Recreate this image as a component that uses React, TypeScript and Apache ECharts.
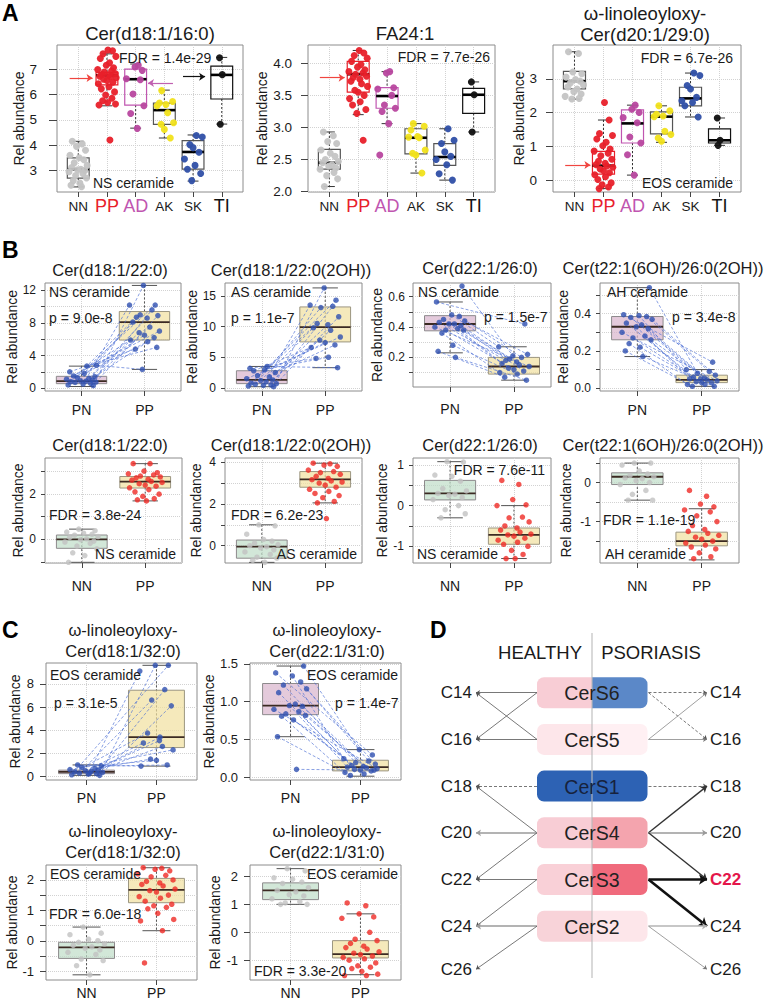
import React, { useEffect, useRef } from "react";
import * as echarts from "echarts";

const FONT = '"Liberation Sans", Arial, Helvetica, sans-serif';

// display jitter offsets (category units), typed once and cycled
const JITTER = [-0.18, 0.12, -0.05, 0.22, -0.25, 0.03, 0.17, -0.12, 0.27, -0.2, 0.08, -0.02, 0.2, -0.28, 0.14, -0.08, 0.25, -0.15, 0.05, -0.22, 0.1, 0.28, -0.1, 0.0, 0.18, -0.26, 0.06, -0.17, 0.23, -0.04, 0.15, -0.13, 0.02, 0.26, -0.24, 0.09];

// ---------------- Panel A ----------------
const A_CATS = ["NN", "PP", "AD", "AK", "SK", "TI"];
// [lower whisker, q1, median, q3, upper whisker]
const A1_BOX = [[2.35, 2.7, 3.05, 3.5, 4.15], [5.55, 6.38, 6.75, 6.87, 7.6], [4.67, 5.58, 6.6, 7.0, 7.2], [4.28, 4.82, 5.38, 5.66, 6.17], [2.58, 3.05, 3.73, 4.18, 4.4], [4.83, 5.82, 6.77, 7.12, 7.46]];
const A1_PTS = [
  [4.15, 4.05, 3.95, 3.8, 3.6, 3.5, 3.42, 3.3, 3.2, 3.12, 3.05, 3.03, 3.0, 2.95, 2.88, 2.8, 2.7, 2.6, 2.5, 2.42, 2.36],
  [7.75, 7.72, 7.6, 7.5, 7.42, 7.25, 7.15, 7.05, 6.98, 6.92, 6.88, 6.82, 6.78, 6.76, 6.72, 6.7, 6.66, 6.6, 6.55, 6.48, 6.42, 6.3, 6.22, 6.1, 5.98, 5.85, 5.75, 5.68, 5.62, 5.58, 4.2],
  [7.15, 7.08, 6.95, 6.62, 6.58, 6.02, 5.55, 5.25, 4.66],
  [6.15, 5.72, 5.66, 5.6, 5.55, 5.28, 4.88, 4.82, 4.62, 4.28],
  [4.38, 4.32, 4.02, 3.9, 3.72, 3.45, 3.2, 3.05, 2.88, 2.6],
  [7.45, 6.78, 4.82],
];
const A2_BOX = [[2.08, 2.35, 2.45, 2.66, 2.93], [3.2, 3.55, 3.83, 4.03, 4.2], [3.06, 3.3, 3.49, 3.62, 3.87], [2.29, 2.59, 2.84, 2.98, 3.06], [2.18, 2.41, 2.54, 2.75, 2.98], [2.93, 3.22, 3.51, 3.61, 3.71]];
const A2_PTS = [
  [2.93, 2.87, 2.78, 2.75, 2.65, 2.6, 2.55, 2.5, 2.47, 2.45, 2.42, 2.4, 2.37, 2.35, 2.3, 2.25, 2.2, 2.08],
  [4.2, 4.16, 4.12, 4.08, 4.03, 3.98, 3.94, 3.9, 3.87, 3.85, 3.83, 3.8, 3.78, 3.75, 3.72, 3.68, 3.64, 3.58, 3.55, 3.5, 3.45, 3.4, 3.35, 3.28, 3.22, 2.8],
  [3.87, 3.85, 3.62, 3.6, 3.5, 3.35, 3.3, 3.25, 3.06, 2.57],
  [3.06, 3.02, 2.96, 2.86, 2.85, 2.84, 2.65, 2.6, 2.57, 2.29],
  [2.98, 2.8, 2.75, 2.62, 2.55, 2.5, 2.42, 2.28, 2.18],
  [3.71, 3.51, 2.93],
];
const A3_BOX = [[2.4, 2.7, 2.93, 3.22, 3.8], [-0.25, 0.18, 0.43, 0.85, 1.78], [0.15, 1.1, 1.68, 2.08, 2.22], [1.12, 1.37, 1.88, 2.02, 2.2], [1.87, 2.2, 2.42, 2.75, 3.17], [1.03, 1.1, 1.18, 1.52, 1.84]];
const A3_PTS = [
  [3.8, 3.75, 3.2, 3.15, 3.05, 2.98, 2.93, 2.88, 2.82, 2.76, 2.7, 2.62, 2.55, 2.48, 2.42, 2.4],
  [2.3, 1.78, 1.38, 1.32, 1.22, 1.12, 1.02, 0.92, 0.86, 0.8, 0.72, 0.62, 0.56, 0.5, 0.46, 0.42, 0.38, 0.33, 0.28, 0.22, 0.16, 0.1, 0.02, -0.08, -0.14, -0.2, -0.25],
  [2.22, 2.1, 2.0, 1.85, 1.7, 1.28, 1.1, 0.75, 0.15],
  [2.2, 2.05, 1.95, 1.9, 1.88, 1.45, 1.35, 1.25, 1.15],
  [3.17, 3.1, 2.8, 2.7, 2.45, 2.35, 2.3, 2.2, 1.87],
  [1.84, 1.18, 1.03],
];
// annotation arrows: [from x, to x, y, colour index]
const A1_ARROWS = [[0.7, 1.5, 6.65, 0], [4.3, 3.43, 6.45, 1], [4.65, 5.42, 6.7, 2]];
const A2_ARROWS = [[0.67, 1.53, 3.775, 0]];
const A3_ARROWS = [[0.68, 1.55, 0.45, 0]];

// ---------------- Panel B ----------------
const PAIR_CATS = ["PN", "PP"];
const GROUP_CATS = ["NN", "PP"];
const B1_BOX = [[0.2, 0.55, 0.85, 1.45, 2.7], [2.3, 5.9, 8.1, 9.4, 12.6]];
const B1_PN = [0.3, 0.4, 0.5, 0.6, 0.7, 0.75, 0.8, 0.85, 0.9, 1.0, 1.1, 1.2, 1.3, 1.4, 1.5, 1.8, 2.0, 2.7, 2.8];
const B1_PP = [12.6, 10.2, 10.2, 9.6, 9.0, 8.9, 8.7, 8.6, 8.1, 7.5, 7.0, 6.8, 6.5, 6.2, 5.9, 5.7, 4.8, 5.0, 2.3];
const B2_BOX = [[0.2, 0.7, 1.3, 2.8, 3.5], [3.3, 7.5, 9.9, 13.2, 16.3]];
const B2_PN = [0.2, 0.3, 0.4, 0.5, 0.6, 0.7, 0.8, 1.0, 1.2, 1.3, 1.5, 1.8, 2.0, 2.5, 2.8, 3.0, 3.2, 3.5];
const B2_PP = [16.3, 14.3, 13.5, 13.3, 13.1, 11.6, 10.5, 10.3, 9.8, 9.4, 8.3, 7.8, 7.4, 7.0, 6.6, 5.0, 4.8, 3.3];
const B3_BOX = [[0.23, 0.375, 0.42, 0.475, 0.565], [0.05, 0.09, 0.14, 0.2, 0.27]];
const B3_PN = [0.67, 0.565, 0.48, 0.47, 0.45, 0.44, 0.43, 0.42, 0.42, 0.41, 0.4, 0.39, 0.38, 0.38, 0.36, 0.28, 0.24, 0.2];
const B3_PP = [0.21, 0.42, 0.27, 0.2, 0.19, 0.22, 0.18, 0.17, 0.16, 0.15, 0.14, 0.13, 0.12, 0.11, 0.1, 0.09, 0.07, 0.05];
const B4_BOX = [[0.17, 0.26, 0.33, 0.385, 0.54], [0.01, 0.03, 0.045, 0.07, 0.1]];
const B4_PN = [0.54, 0.395, 0.39, 0.385, 0.38, 0.37, 0.35, 0.34, 0.33, 0.32, 0.3, 0.28, 0.27, 0.26, 0.24, 0.22, 0.2, 0.17];
const B4_PP = [0.05, 0.14, 0.1, 0.09, 0.08, 0.07, 0.06, 0.055, 0.05, 0.045, 0.04, 0.035, 0.03, 0.03, 0.02, 0.02, 0.01, 0.01];

const B5_BOX = [[-1.02, -0.4, 0.0, 0.19, 0.45], [1.7, 2.27, 2.55, 2.78, 3.35]];
const B5_PTS = [
  [0.45, 0.38, 0.32, 0.27, 0.22, 0.18, 0.12, 0.08, 0.02, -0.02, -0.08, -0.12, -0.18, -0.3, -0.42, -0.6, -0.72, -1.02],
  [3.35, 3.35, 3.02, 2.95, 2.9, 2.85, 2.8, 2.76, 2.72, 2.66, 2.62, 2.56, 2.52, 2.46, 2.4, 2.35, 2.28, 2.2, 2.1, 2.0, 1.9, 1.8, 1.75, 1.7],
];
const B6_BOX = [[-0.8, -0.6, -0.05, 0.27, 1.0], [2.05, 2.8, 3.18, 3.55, 3.95]];
const B6_PTS = [
  [1.0, 0.95, 0.55, 0.3, 0.22, 0.12, 0.05, 0.0, -0.05, -0.1, -0.2, -0.3, -0.42, -0.55, -0.6, -0.7, -0.8],
  [3.95, 3.92, 3.86, 3.8, 3.62, 3.55, 3.5, 3.42, 3.32, 3.22, 3.16, 3.1, 3.05, 3.0, 2.9, 2.8, 2.7, 2.6, 2.5, 2.4, 2.3, 2.12, 2.05, 1.3],
];
const B7_BOX = [[-0.3, 0.14, 0.3, 0.62, 1.08], [-1.3, -0.95, -0.72, -0.55, 0.0]];
const B7_PTS = [
  [1.08, 1.07, 0.75, 0.72, 0.6, 0.42, 0.36, 0.3, 0.28, 0.25, 0.2, 0.15, 0.0, -0.1, -0.2, -0.3],
  [0.62, 0.52, 0.15, 0.02, 0.0, -0.28, -0.3, -0.4, -0.5, -0.55, -0.6, -0.65, -0.7, -0.72, -0.75, -0.8, -0.85, -0.9, -0.95, -1.0, -1.1, -1.2, -1.3, -1.3],
];
const B8_BOX = [[-0.45, -0.05, 0.15, 0.25, 0.5], [-1.98, -1.62, -1.5, -1.27, -0.67]];
const B8_PTS = [
  [0.5, 0.5, 0.45, 0.3, 0.22, 0.18, 0.15, 0.12, 0.1, 0.05, 0.0, -0.05, -0.2, -0.3, -0.45, -0.45],
  [-0.2, -0.35, -0.55, -0.62, -0.7, -0.75, -0.85, -1.0, -1.1, -1.2, -1.25, -1.3, -1.35, -1.4, -1.45, -1.5, -1.55, -1.6, -1.65, -1.7, -1.8, -1.9, -1.95],
];

// ---------------- Panel C ----------------
const C1_BOX = [[0.1, 0.25, 0.4, 0.55, 1.0], [0.9, 2.5, 3.4, 7.45, 9.6]];
const C1_PN = [0.1, 0.15, 0.2, 0.25, 0.3, 0.35, 0.4, 0.45, 0.5, 0.55, 0.6, 0.7, 0.8, 0.9, 1.0, 0.3];
const C1_PP = [9.6, 9.6, 9.1, 7.5, 6.6, 6.1, 3.75, 3.1, 2.9, 2.6, 2.3, 1.5, 1.4, 1.0, 0.9, 3.4];
const C2_BOX = [[0.54, 0.83, 0.95, 1.24, 1.47], [0.02, 0.09, 0.14, 0.23, 0.37]];
const C2_PN = [1.47, 1.38, 1.34, 1.26, 1.22, 1.17, 1.12, 0.97, 0.95, 0.94, 0.9, 0.87, 0.84, 0.82, 0.81, 0.76, 0.54, 0.11];
const C2_PP = [0.37, 0.3, 0.25, 0.22, 0.2, 0.18, 0.16, 0.15, 0.14, 0.13, 0.12, 0.11, 0.1, 0.09, 0.07, 0.05, 0.03, 0.1];
const C3_BOX = [[-1.12, -0.58, -0.22, -0.05, 0.45], [0.33, 1.25, 1.67, 2.05, 2.4]];
const C3_PTS = [
  [0.45, 0.25, 0.2, 0.05, 0.0, -0.05, -0.1, -0.15, -0.2, -0.25, -0.3, -0.38, -0.45, -0.6, -0.65, -0.82, -1.12],
  [2.4, 2.38, 2.35, 2.3, 2.2, 2.15, 2.1, 2.0, 1.95, 1.9, 1.85, 1.8, 1.7, 1.65, 1.6, 1.5, 1.45, 1.4, 1.3, 1.2, 1.15, 1.1, 1.05, 0.9, 0.7, 0.65, 0.33, -0.73],
];
const C4_BOX = [[1.0, 1.17, 1.5, 1.77, 2.28], [-1.52, -0.92, -0.78, -0.3, 0.66]];
const C4_PTS = [
  [2.28, 2.2, 1.95, 1.9, 1.8, 1.75, 1.6, 1.5, 1.45, 1.35, 1.3, 1.2, 1.1, 1.05, 1.0, 1.0],
  [1.05, 0.95, 0.66, 0.55, 0.5, 0.0, -0.25, -0.3, -0.4, -0.5, -0.55, -0.6, -0.7, -0.75, -0.8, -0.85, -0.9, -0.95, -1.0, -1.1, -1.2, -1.25, -1.3, -1.4, -1.5, -1.55, -1.55],
];

// ---------------- Panel D ----------------
const D_ENZYMES = ["CerS6", "CerS5", "CerS1", "CerS4", "CerS3", "CerS2"];
const D_CHAINS = ["C14", "C16", "C18", "C20", "C22", "C24", "C26"];
// [enzyme index, chain index, line kind]
const D_HEALTHY = [[0, 0, "solid"], [0, 1, "solid"], [1, 0, "solid"], [1, 1, "solid"], [2, 2, "dashed"], [3, 2, "solid"], [3, 3, "gray"], [3, 4, "solid"], [4, 4, "solid"], [4, 5, "solid"], [5, 5, "gray"], [5, 6, "solid"]];
const D_PSORIASIS = [[0, 0, "dashed"], [0, 1, "dashed"], [1, 0, "thin"], [1, 1, "thin"], [2, 2, "dashed"], [3, 2, "medium"], [3, 3, "gray"], [3, 4, "medium"], [4, 4, "bold"], [4, 5, "bold"], [5, 5, "light"], [5, 6, "thin"]];

// ---------------- styles ----------------
const A_STROKE = ["#555555", "#e8202a", "#c055b0", "#555555", "#555555", "#111111"];
const A_POINT = ["#c4c4c4", "#e8202a", "#b8479f", "#f1e21b", "#2f4fa6", "#111111"];
const ARROW_COLORS = ["#f0453f", "#c060b0", "#111111"];
const FILL_PN = "rgba(216,179,204,0.7)";
const FILL_PP = "rgba(241,224,158,0.7)";
const FILL_NN = "rgba(191,221,199,0.7)";
const D_LEFT_FILL = ["#f8cdd5", "#fde6ea", "#2d62b4", "#f8cdd5", "#f9d0d7", "#f8d3d9"];
const D_RIGHT_FILL = ["#5b88c8", "#fff0f3", "#2d62b4", "#f4a4ae", "#f06a7c", "#fde6ea"];
const D_LINK_STYLE: any = {
  solid: { color: "#555", width: 0.8, type: "solid", size: 4 },
  dashed: { color: "#555", width: 0.8, type: [3, 2], size: 4 },
  gray: { color: "#9a9a9a", width: 1.6, type: "solid", size: 5 },
  thin: { color: "#777", width: 0.7, type: "solid", size: 4 },
  medium: { color: "#333", width: 1.4, type: "solid", size: 6 },
  bold: { color: "#111", width: 2.6, type: "solid", size: 8 },
  light: { color: "#b4b4b4", width: 1.6, type: "solid", size: 5 },
};

const W_TITLE = ["ω-linoleoyloxy-"];

const PLOTS: any[] = [
  { kind: "A", rect: [57, 45, 243, 192], y: [2.15, 7.95], ticks: [3, 4, 5, 6, 7], labels: [3, 4, 5, 6, 7], digits: 0, boxes: A1_BOX, points: A1_PTS, arrows: A1_ARROWS,
    title: ["Cer(d18:1/16:0)"], tx: 150, ty: [33], ts: 18.5, gap: 23, lm: 12, tl: 8, xm: 8, fs: 13.5,
    notes: [["FDR = 1.4e-29", 119, 58, "left"], ["NS ceramide", 93, 183, "left"]] },
  { kind: "A", rect: [308, 45, 495, 192], y: [1.995, 4.285], ticks: [2, 2.5, 3, 3.5, 4], labels: [2, 2.5, 3, 3.5, 4], digits: 1, boxes: A2_BOX, points: A2_PTS, arrows: A2_ARROWS,
    title: ["FA24:1"], tx: 405, ty: [33], ts: 18.5, gap: 26, lm: 9, tl: 7, xm: 8, fs: 13.5,
    notes: [["FDR = 7.7e-26", 490, 57, "right"]] },
  { kind: "A", rect: [553, 45, 741, 192], y: [-0.35, 4.0], ticks: [0, 1, 2, 3], labels: [0, 1, 2, 3], digits: 0, boxes: A3_BOX, points: A3_PTS, arrows: A3_ARROWS,
    title: [W_TITLE[0], "Cer(d20:1/29:0)"], tx: 645, ty: [13, 34], ts: 18.5, gap: 21, lm: 9, tl: 7, xm: 8, fs: 13.5,
    notes: [["FDR = 6.7e-26", 733, 58, "right"], ["EOS ceramide", 733, 183, "right"]] },

  { kind: "pair", rect: [45, 283, 181, 391], y: [-0.35, 12.9], ticks: [0, 2, 4, 6, 8, 10, 12], labels: [0, 4, 8, 12], digits: 0, boxes: B1_BOX, pn: B1_PN, pp: B1_PP,
    title: ["Cer(d18:1/22:0)"], tx: 110, ty: [270], ts: 16.5, gap: 20, lm: 5, tl: 4, xm: 9, fs: 12,
    notes: [["NS ceramide", 49, 292, "left"], ["p = 9.0e-8", 49, 318, "left"]] },
  { kind: "pair", rect: [225, 283, 362, 391], y: [-0.5, 17.1], ticks: [0, 5, 10, 15], labels: [0, 5, 10, 15], digits: 0, boxes: B2_BOX, pn: B2_PN, pp: B2_PP,
    title: ["Cer(d18:1/22:0(2OH))"], tx: 291, ty: [270], ts: 16.5, gap: 22, lm: 5, tl: 4, xm: 9, fs: 12,
    notes: [["AS ceramide", 231, 292, "left"], ["p = 1.1e-7", 231, 318, "left"]] },
  { kind: "pair", rect: [413, 283, 551, 387], y: [0.005, 0.69], ticks: [0.1, 0.2, 0.3, 0.4, 0.5, 0.6], labels: [0.2, 0.4, 0.6], digits: 1, boxes: B3_BOX, pn: B3_PN, pp: B3_PP,
    title: ["Cer(d22:1/26:0)"], tx: 480, ty: [268], ts: 16.5, gap: 17, lm: 4, tl: 4, xm: 12, fs: 12,
    notes: [["NS ceramide", 418, 292, "left"], ["p = 1.5e-7", 484, 317, "left"]] },
  { kind: "pair", rect: [600, 283, 739, 391], y: [-0.015, 0.565], ticks: [0, 0.1, 0.2, 0.3, 0.4, 0.5], labels: [0, 0.2, 0.4], digits: 1, boxes: B4_BOX, pn: B4_PN, pp: B4_PP,
    title: ["Cer(t22:1(6OH)/26:0(2OH))"], tx: 663, ty: [268], ts: 16.5, gap: 27, lm: 5, tl: 4, xm: 9, fs: 12,
    notes: [["AH ceramide", 607, 292, "left"], ["p = 3.4e-8", 672, 317, "left"]] },

  { kind: "group", rect: [45, 458, 182, 563], y: [-1.05, 3.6], ticks: [-1, 0, 1, 2, 3], labels: [0, 2], digits: 0, boxes: B5_BOX, points: B5_PTS,
    title: ["Cer(d18:1/22:0)"], tx: 110, ty: [445], ts: 16.5, gap: 20, lm: 5, tl: 4, xm: 13, fs: 12,
    notes: [["FDR = 3.8e-24", 49, 515, "left"], ["NS ceramide", 176, 554, "right"]] },
  { kind: "group", rect: [225, 458, 362, 563], y: [-0.83, 4.2], ticks: [0, 1, 2, 3, 4], labels: [0, 2, 4], digits: 0, boxes: B6_BOX, points: B6_PTS,
    title: ["Cer(d18:1/22:0(2OH))"], tx: 291, ty: [445], ts: 16.5, gap: 22, lm: 5, tl: 4, xm: 13, fs: 12,
    notes: [["FDR = 6.2e-23", 231, 515, "left"], ["AS ceramide", 357, 554, "right"]] },
  { kind: "group", rect: [413, 458, 551, 563], y: [-1.41, 1.17], ticks: [-1, -0.5, 0, 0.5, 1], labels: [-1, 0, 1], digits: 0, boxes: B7_BOX, points: B7_PTS,
    title: ["Cer(d22:1/26:0)"], tx: 480, ty: [445], ts: 16.5, gap: 18, lm: 5, tl: 4, xm: 13, fs: 12,
    notes: [["FDR = 7.6e-11", 545, 470, "right"], ["NS ceramide", 417, 554, "left"]] },
  { kind: "group", rect: [600, 458, 739, 563], y: [-2.06, 0.63], ticks: [-1.5, -1, -0.5, 0, 0.5], labels: [-1, 0], digits: 0, boxes: B8_BOX, points: B8_PTS,
    title: ["Cer(t22:1(6OH)/26:0(2OH))"], tx: 663, ty: [445], ts: 16.5, gap: 27, lm: 5, tl: 4, xm: 13, fs: 12,
    notes: [["FDR = 1.1e-19", 603, 520, "left"], ["AH ceramide", 605, 554, "left"]] },

  { kind: "pair", rect: [46, 663, 197, 780], y: [-0.3, 9.8], ticks: [0, 2, 4, 6, 8], labels: [0, 2, 4, 6, 8], digits: 0, boxes: C1_BOX, pn: C1_PN, pp: C1_PP,
    title: [W_TITLE[0], "Cer(d18:1/32:0)"], tx: 123, ty: [630, 651], ts: 16.5, gap: 24, lm: 6, tl: 6, xm: 8, fs: 13,
    notes: [["EOS ceramide", 50, 675, "left"], ["p = 3.1e-5", 54, 703, "left"]] },
  { kind: "pair", rect: [250, 663, 401, 780], y: [-0.03, 1.51], ticks: [0, 0.5, 1, 1.5], labels: [0, 0.5, 1, 1.5], digits: 1, boxes: C2_BOX, pn: C2_PN, pp: C2_PP,
    title: [W_TITLE[0], "Cer(d22:1/31:0)"], tx: 327, ty: [630, 651], ts: 16.5, gap: 25, lm: 6, tl: 6, xm: 8, fs: 13,
    notes: [["EOS ceramide", 307, 675, "left"], ["p = 1.4e-7", 335, 703, "left"]] },
  { kind: "group", rect: [46, 865, 197, 980], y: [-1.29, 2.49], ticks: [-1, -0.5, 0, 0.5, 1, 1.5, 2], labels: [-1, 0, 1, 2], digits: 0, boxes: C3_BOX, points: C3_PTS,
    title: [W_TITLE[0], "Cer(d18:1/32:0)"], tx: 123, ty: [831, 852], ts: 16.5, gap: 25, lm: 6, tl: 6, xm: 3, fs: 13,
    notes: [["EOS ceramide", 50, 874, "left"], ["FDR = 6.0e-18", 49, 914, "left"]] },
  { kind: "group", rect: [250, 865, 401, 980], y: [-1.71, 2.41], ticks: [-1, 0, 1, 2], labels: [-1, 0, 1, 2], digits: 0, boxes: C4_BOX, points: C4_PTS,
    title: [W_TITLE[0], "Cer(d22:1/31:0)"], tx: 327, ty: [831, 852], ts: 16.5, gap: 28, lm: 6, tl: 6, xm: 3, fs: 13,
    notes: [["EOS ceramide", 307, 874, "left"], ["FDR = 3.3e-20", 254, 971, "left"]] },
];

function jit(k: number, off: number, scale: number) {
  return JITTER[(k + off) % JITTER.length] * scale;
}

function makeRender(styles: any[]) {
  return function (params: any, api: any) {
    const s = styles[params.dataIndex] || styles[0];
    const x = api.value(0);
    const lo = api.value(1), q1 = api.value(2), md = api.value(3), q3 = api.value(4), hi = api.value(5);
    const a = api.coord([x - s.hw, q3]);
    const b = api.coord([x + s.hw, q1]);
    const c = api.coord([x, md]);
    const yl = api.coord([x, lo])[1];
    const yh = api.coord([x, hi])[1];
    const cx = c[0];
    const cap = (b[0] - a[0]) * 0.25;
    const wk = { stroke: s.whisker, lineWidth: 1, lineDash: [2, 2] };
    const ch: any[] = [];
    if (s.through) ch.push({ type: "line", shape: { x1: cx, y1: yh, x2: cx, y2: yl }, style: wk });
    else {
      ch.push({ type: "line", shape: { x1: cx, y1: yh, x2: cx, y2: a[1] }, style: wk });
      ch.push({ type: "line", shape: { x1: cx, y1: b[1], x2: cx, y2: yl }, style: wk });
    }
    ch.push({ type: "line", shape: { x1: cx - cap, y1: yh, x2: cx + cap, y2: yh }, style: { stroke: s.whisker, lineWidth: 1 } });
    ch.push({ type: "line", shape: { x1: cx - cap, y1: yl, x2: cx + cap, y2: yl }, style: { stroke: s.whisker, lineWidth: 1 } });
    ch.push({ type: "rect", shape: { x: a[0], y: a[1], width: b[0] - a[0], height: b[1] - a[1] }, style: { fill: s.fill, stroke: s.stroke, lineWidth: s.lw } });
    ch.push({ type: "line", shape: { x1: a[0], y1: c[1], x2: b[0], y2: c[1] }, style: { stroke: s.median, lineWidth: s.mw } });
    return { type: "group", children: ch };
  };
}

function txt(text: string, x: number, y: number, size: number, align = "left", extra: any = {}) {
  return {
    type: "text", x, y, silent: true, z: 50,
    style: { text, fontSize: size, fontFamily: FONT, fill: "#1a1a1a", align, verticalAlign: "middle", textAlign: align, textVerticalAlign: "middle", ...extra },
  };
}

function buildOption() {
  const grid: any[] = [], xAxis: any[] = [], yAxis: any[] = [], series: any[] = [], elements: any[] = [];
  const split = { show: true, lineStyle: { type: "dotted", color: "#d2d2d2", width: 1 } };

  PLOTS.forEach((p, i) => {
    const [l, t, r, b] = p.rect;
    const cats = p.kind === "A" ? A_CATS : p.kind === "pair" ? PAIR_CATS : GROUP_CATS;
    const n = cats.length;
    const xr = n === 6 ? [0.26, 6.74] : [0.42, 2.58];
    const xv = cats.map((_: string, k: number) => k + 1);
    grid.push({ left: l, top: t, width: r - l, height: b - t, show: true, borderColor: "#8c8c8c", borderWidth: 1, backgroundColor: "transparent", containLabel: false, outerBoundsMode: "none" });
    const rich = {
      n: { fontSize: p.kind === "A" ? 13.5 : 14, color: "#1a1a1a", fontFamily: FONT, lineHeight: 20 },
      pp: { fontSize: 18, color: "#e8202a", fontFamily: FONT, lineHeight: 20 },
      ad: { fontSize: 18, color: "#c055b0", fontFamily: FONT, lineHeight: 20 },
      ti: { fontSize: 18, color: "#111", fontFamily: FONT, lineHeight: 20 },
    };
    xAxis.push({
      type: "value", gridIndex: i, min: xr[0], max: xr[1],
      axisLine: { show: false, onZero: false },
      axisTick: { show: true, customValues: xv, length: 5, lineStyle: { color: "#444" } },
      axisLabel: {
        customValues: xv, margin: p.kind === "A" ? p.xm - 4 : p.xm, fontFamily: FONT,
        formatter: (v: number) => {
          const name = cats[Math.round(v) - 1];
          if (p.kind === "A") {
            const key = name === "PP" ? "pp" : name === "AD" ? "ad" : name === "TI" ? "ti" : "n";
            return `{${key}|${name}}`;
          }
          return `{n|${name}}`;
        },
        rich,
      },
      splitLine: split,
    });
    yAxis.push({
      type: "value", gridIndex: i, min: p.y[0], max: p.y[1],
      name: "Rel abundance", nameLocation: "middle", nameGap: p.gap, nameRotate: 90,
      nameTextStyle: { fontSize: 14, color: "#1a1a1a", fontFamily: FONT },
      axisLine: { show: false, onZero: false },
      axisTick: { show: true, customValues: p.ticks, length: p.tl, lineStyle: { color: "#444" } },
      axisLabel: { customValues: p.labels, margin: p.lm + p.tl, fontSize: p.fs, color: "#1a1a1a", fontFamily: FONT, formatter: (v: number) => Number(v).toFixed(p.digits) },
      splitLine: split,
    });

    // boxes
    let styles: any[];
    if (p.kind === "A") {
      styles = A_STROKE.map((s) => ({ hw: 0.38, fill: "rgba(255,255,255,0)", stroke: s, lw: 1.2, median: "#000", mw: 2.6, whisker: "#333", through: false }));
    } else {
      const f0 = p.kind === "pair" ? FILL_PN : FILL_NN;
      styles = [
        { hw: 0.4, fill: f0, stroke: "#8d8a8c", lw: 1, median: "#3b2a22", mw: 1.8, whisker: "#555", through: true },
        { hw: 0.4, fill: FILL_PP, stroke: "#9c9680", lw: 1, median: "#3b2a22", mw: 1.8, whisker: "#555", through: true },
      ];
    }
    series.push({
      type: "custom", xAxisIndex: i, yAxisIndex: i, z: 2, silent: true, clip: false,
      renderItem: makeRender(styles),
      encode: { x: 0, y: [1, 2, 3, 4, 5] },
      data: p.boxes.map((bx: number[], k: number) => [k + 1, ...bx]),
    });

    if (p.kind === "A") {
      p.points.forEach((ys: number[], g: number) => {
        series.push({
          type: "scatter", xAxisIndex: i, yAxisIndex: i, z: 4, silent: true, symbol: "circle", symbolSize: 7,
          itemStyle: { color: A_POINT[g], opacity: 0.95 },
          data: ys.map((y, k) => [g + 1 + jit(k, g * 5, g === 5 ? 0.3 : 1.15), y]),
        });
      });
      series.push({
        type: "lines", coordinateSystem: "cartesian2d", xAxisIndex: i, yAxisIndex: i, z: 5, silent: true,
        symbol: ["none", "arrow"], symbolSize: 6,
        data: p.arrows.map((a: number[]) => ({ coords: [[a[0], a[2]], [a[1], a[2]]], lineStyle: { color: ARROW_COLORS[a[3]], width: 1.2, opacity: 1 } })),
      });
    } else if (p.kind === "pair") {
      const pnX = p.pn.map((_: number, k: number) => 1 + jit(k, 3, 0.85));
      const ppX = p.pp.map((_: number, k: number) => 2 + jit(k, 11, 0.85));
      series.push({
        type: "lines", coordinateSystem: "cartesian2d", xAxisIndex: i, yAxisIndex: i, z: 3, silent: true, symbol: "none",
        lineStyle: { color: "#4d70d4", width: 0.7, type: [3, 2], opacity: 0.95 },
        data: p.pn.map((v: number, k: number) => ({ coords: [[pnX[k], v], [ppX[k], p.pp[k]]] })),
      });
      series.push({
        type: "scatter", xAxisIndex: i, yAxisIndex: i, z: 4, silent: true, symbol: "circle", symbolSize: 5.5,
        itemStyle: { color: "#2f50b0" },
        data: [...p.pn.map((v: number, k: number) => [pnX[k], v]), ...p.pp.map((v: number, k: number) => [ppX[k], v])],
      });
    } else {
      const cols = ["#c2c2c2", "#ef2b25"];
      p.points.forEach((ys: number[], g: number) => {
        series.push({
          type: "scatter", xAxisIndex: i, yAxisIndex: i, z: 4, silent: true, symbol: "circle", symbolSize: 5.5,
          itemStyle: { color: cols[g] },
          data: ys.map((y, k) => [g + 1 + jit(k, g * 7 + 2, 0.95), y]),
        });
      });
    }

    p.title.forEach((line: string, k: number) => elements.push(txt(line, p.tx, p.ty[k], p.ts, "center")));
    p.notes.forEach((nt: any[]) => elements.push(txt(nt[0], nt[1], nt[2], 14, nt[3])));
  });

  // panel letters
  [["A", 2, 1], ["B", 2, 238], ["C", 2, 618], ["D", 430, 618]].forEach((q: any[]) =>
    elements.push({ type: "text", x: q[1], y: q[2], silent: true, z: 50, style: { text: q[0], fontSize: 23, fontWeight: 900, fontFamily: FONT, fill: "#000", align: "left", verticalAlign: "top", textAlign: "left", textVerticalAlign: "top" } })
  );

  // ---------- Panel D ----------
  const rowY = (k: number) => 692.7 + k * 46.7;
  const chainY = (k: number) => (k < 6 ? rowY(k) : 969.3);
  const BX0 = 537, BXM = 592, BX1 = 647.5, BH = 31;
  D_ENZYMES.forEach((_, k) => {
    const y = rowY(k);
    elements.push({ type: "rect", silent: true, z: 10, shape: { x: BX0, y: y - BH / 2, width: BXM - BX0, height: BH, r: [7, 0, 0, 7] }, style: { fill: D_LEFT_FILL[k] } });
    elements.push({ type: "rect", silent: true, z: 10, shape: { x: BXM, y: y - BH / 2, width: BX1 - BXM, height: BH, r: [0, 7, 7, 0] }, style: { fill: D_RIGHT_FILL[k] } });
  });
  elements.push({ type: "line", silent: true, z: 11, shape: { x1: BXM, y1: 633, x2: BXM, y2: 978 }, style: { stroke: "rgba(185,185,185,0.55)", lineWidth: 2 } });
  D_ENZYMES.forEach((name, k) => elements.push(txt(name, BXM, rowY(k) + 0.5, 19.5, "center", { fill: k === 2 ? "#17223d" : "#222" })));
  elements.push(txt("HEALTHY", 540, 652, 18.5, "center"));
  elements.push(txt("PSORIASIS", 651, 652, 18.5, "center"));
  D_CHAINS.forEach((name, k) => {
    elements.push(txt(name, 472, chainY(k), 17, "right"));
    elements.push(txt(name, 710, chainY(k), 17, "left", name === "C22" ? { fill: "#e4164a", fontWeight: "bold" } : {}));
  });

  const hid = PLOTS.length;
  grid.push({ left: 0, top: 0, width: 765, height: 1003, show: false, outerBoundsMode: "none" });
  xAxis.push({ type: "value", gridIndex: hid, min: 0, max: 765, show: false });
  yAxis.push({ type: "value", gridIndex: hid, min: 0, max: 1003, inverse: true, show: false });
  const linkItem = (from: number[], to: number[], kind: string) => {
    const s = D_LINK_STYLE[kind];
    return { coords: [from, to], symbolSize: s.size, lineStyle: { color: s.color, width: s.width, type: s.type, opacity: 1 } };
  };
  const dData: any[] = [];
  D_HEALTHY.forEach((lk: any[]) => dData.push(linkItem([BX0, rowY(lk[0])], [476, chainY(lk[1])], lk[2])));
  D_PSORIASIS.forEach((lk: any[]) => dData.push(linkItem([BX1 + 1, rowY(lk[0])], [707, chainY(lk[1])], lk[2])));
  series.push({
    type: "lines", coordinateSystem: "cartesian2d", xAxisIndex: hid, yAxisIndex: hid, z: 5, silent: true,
    symbol: ["none", "arrow"], symbolSize: 5, data: dData,
  });

  return {
    animation: false,
    backgroundColor: "#ffffff",
    textStyle: { fontFamily: FONT },
    grid, xAxis, yAxis, series,
    graphic: { elements },
  };
}

export default function App() {
  const ref = useRef<HTMLDivElement>(null);
  useEffect(() => {
    document.body.style.margin = "0";
    if (!ref.current) return;
    const chart = echarts.init(ref.current, undefined, { renderer: "svg" });
    chart.setOption(buildOption() as any);
    return () => chart.dispose();
  }, []);
  return <div ref={ref} style={{ width: 765, height: 1003 }} />;
}
